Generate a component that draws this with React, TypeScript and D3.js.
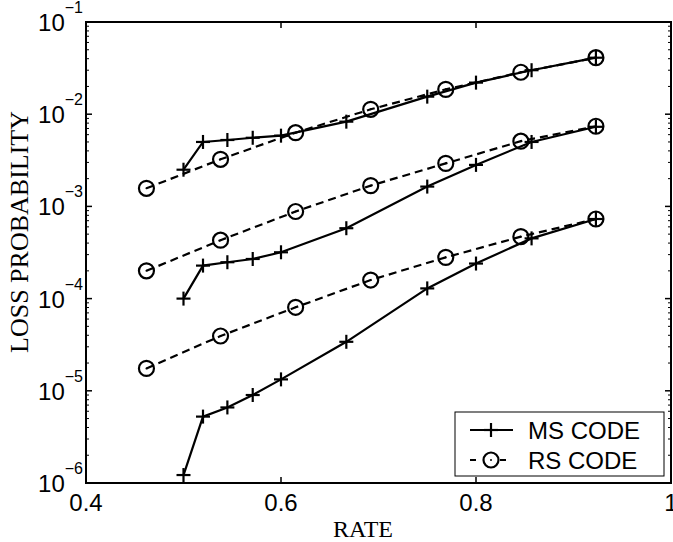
import { scaleLinear, scaleLog, line } from "d3"

// code rates (k/n)
const msRate = [0.5, 0.52, 0.545, 0.571, 0.6, 0.667, 0.75, 0.8, 0.857, 0.923]
const rsRate = [0.462, 0.538, 0.615, 0.692, 0.769, 0.846, 0.923]

// three loss scenarios, top to bottom
const msLossA = [2.5e-3, 5.0e-3, 5.25e-3, 5.55e-3, 5.85e-3, 8.3e-3, 1.55e-2, 2.2e-2, 3.0e-2, 4.1e-2]
const rsLossA = [1.57e-3, 3.24e-3, 6.3e-3, 1.13e-2, 1.86e-2, 2.85e-2, 4.1e-2]
const msLossB = [1.0e-4, 2.28e-4, 2.48e-4, 2.69e-4, 3.18e-4, 5.8e-4, 1.64e-3, 2.82e-3, 5.0e-3, 7.3e-3]
const rsLossB = [2.0e-4, 4.3e-4, 8.8e-4, 1.68e-3, 2.93e-3, 5.1e-3, 7.4e-3]
const msLossC = [1.22e-6, 5.25e-6, 6.6e-6, 9.0e-6, 1.33e-5, 3.4e-5, 1.29e-4, 2.4e-4, 4.5e-4, 7.3e-4]
const rsLossC = [1.75e-5, 3.93e-5, 8.05e-5, 1.59e-4, 2.8e-4, 4.7e-4, 7.3e-4]

const xTicks = [0.4, 0.6, 0.8, 1]
const xTickLabels = ["0.4", "0.6", "0.8", "1"]
const yExponents = [-6, -5, -4, -3, -2, -1]
const legendLabels = ["MS CODE", "RS CODE"]

const W = 673
const H = 542
const M = { left: 86, top: 22, right: 671, bottom: 483 }
const SANS = "'Liberation Sans', Arial, Helvetica, sans-serif"
const SERIF = "'Liberation Serif', 'Times New Roman', serif"

function Plus({ x, y }: { x: number; y: number }) {
  return (
    <g stroke="#000" strokeWidth={2.2}>
      <line x1={x - 7} x2={x + 7} y1={y} y2={y} />
      <line x1={x} x2={x} y1={y - 7} y2={y + 7} />
    </g>
  )
}

function Ring({ x, y }: { x: number; y: number }) {
  return (
    <g>
      <circle cx={x} cy={y} r={7.5} fill="none" stroke="#000" strokeWidth={2.2} />
      <circle cx={x} cy={y} r={1} fill="#000" />
    </g>
  )
}

export default function App() {
  const xScale = scaleLinear().domain([0.4, 1]).range([M.left, M.right])
  const yScale = scaleLog().domain([1e-6, 1e-1]).range([M.bottom, M.top])

  const path = line<[number, number]>()
    .x((d) => xScale(d[0]))
    .y((d) => yScale(d[1]))

  const msSets = [msLossA, msLossB, msLossC].map((s) => s.map((v, i) => [msRate[i], v] as [number, number]))
  const rsSets = [rsLossA, rsLossB, rsLossC].map((s) => s.map((v, i) => [rsRate[i], v] as [number, number]))

  // minor log ticks 2..9 in every decade
  const minor: number[] = []
  for (let e = -6; e < -1; e++) {
    for (let k = 2; k <= 9; k++) minor.push(k * Math.pow(10, e))
  }

  const legX = 455
  const legY = 412
  const legW = 209
  const legH = 64

  return (
    <div style={{ position: "absolute", left: 0, top: 0 }}>
      <svg width={W} height={H} viewBox={`0 0 ${W} ${H}`} style={{ display: "block", background: "#fff" }}>
        {/* minor ticks left and right */}
        {minor.map((v, i) => (
          <g key={"mn" + i} stroke="#000" strokeWidth={1}>
            <line x1={M.left} x2={M.left + 3} y1={yScale(v)} y2={yScale(v)} />
            <line x1={M.right} x2={M.right - 3} y1={yScale(v)} y2={yScale(v)} />
          </g>
        ))}
        {/* major y ticks and labels */}
        {yExponents.map((e) => {
          const y = yScale(Math.pow(10, e))
          return (
            <g key={"y" + e}>
              <line x1={M.left} x2={M.left + 6} y1={y} y2={y} stroke="#000" strokeWidth={1.5} />
              <line x1={M.right} x2={M.right - 6} y1={y} y2={y} stroke="#000" strokeWidth={1.5} />
              <text x={83} y={y + 9} textAnchor="end" fontFamily={SANS} fontSize={24} fill="#000">
                10
                <tspan dy={-18} fontSize={16}>{"\u2212" + Math.abs(e)}</tspan>
              </text>
            </g>
          )
        })}
        {/* x ticks and labels */}
        {xTicks.map((t, i) => (
          <g key={"x" + i}>
            <line x1={xScale(t)} x2={xScale(t)} y1={M.bottom} y2={M.bottom - 6} stroke="#000" strokeWidth={1.5} />
            <line x1={xScale(t)} x2={xScale(t)} y1={M.top} y2={M.top + 6} stroke="#000" strokeWidth={1.5} />
            <text x={xScale(t)} y={511} textAnchor="middle" fontFamily={SANS} fontSize={24} fill="#000">
              {xTickLabels[i]}
            </text>
          </g>
        ))}

        {/* RS code, dashed with circles */}
        {rsSets.map((s, j) => (
          <g key={"rs" + j}>
            <path d={path(s) || ""} fill="none" stroke="#000" strokeWidth={2.2} strokeDasharray="8,5" />
            {s.map((d, i) => (
              <Ring key={i} x={xScale(d[0])} y={yScale(d[1])} />
            ))}
          </g>
        ))}
        {/* MS code, solid with plus */}
        {msSets.map((s, j) => (
          <g key={"ms" + j}>
            <path d={path(s) || ""} fill="none" stroke="#000" strokeWidth={2.2} />
            {s.map((d, i) => (
              <Plus key={i} x={xScale(d[0])} y={yScale(d[1])} />
            ))}
          </g>
        ))}

        {/* axes box */}
        <rect
          x={M.left}
          y={M.top}
          width={M.right - M.left}
          height={M.bottom - M.top}
          fill="none"
          stroke="#000"
          strokeWidth={2}
        />

        {/* legend */}
        <rect x={legX} y={legY} width={legW} height={legH} fill="#fff" stroke="#000" strokeWidth={1} />
        <line x1={legX + 15} x2={legX + 58} y1={legY + 18} y2={legY + 18} stroke="#000" strokeWidth={2.2} />
        <Plus x={legX + 36} y={legY + 18} />
        <line
          x1={legX + 15}
          x2={legX + 58}
          y1={legY + 48}
          y2={legY + 48}
          stroke="#000"
          strokeWidth={2.2}
          strokeDasharray="6,9"
        />
        <rect x={legX + 27} y={legY + 38} width={18} height={20} fill="#fff" />
        <Ring x={legX + 36} y={legY + 48} />
        <text x={legX + 73} y={legY + 27} fontFamily={SANS} fontSize={24} fill="#000">
          {legendLabels[0]}
        </text>
        <text x={legX + 73} y={legY + 57} fontFamily={SANS} fontSize={24} fill="#000">
          {legendLabels[1]}
        </text>

        {/* axis labels */}
        <text x={363} y={537} textAnchor="middle" fontFamily={SERIF} fontSize={24} fill="#000">
          RATE
        </text>
        <text
          transform={`translate(28,232) rotate(-90)`}
          textAnchor="middle"
          fontFamily={SERIF}
          fontSize={26}
          fill="#000"
        >
          LOSS PROBABILITY
        </text>
      </svg>
    </div>
  )
}
